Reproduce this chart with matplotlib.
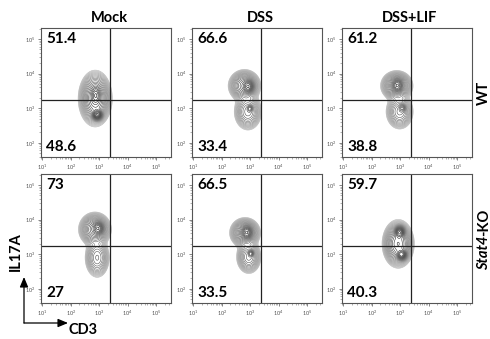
import numpy as np
import matplotlib
matplotlib.use('Agg')
from matplotlib import pyplot as plt

plt.rcParams['font.family'] = ['Lato', 'DejaVu Sans']

# column / row names
conditions = ['Mock', 'DSS', 'DSS+LIF']
genotypes = ['WT', 'Stat4-KO']

# quadrant percentages (upper-left = IL17A+, lower-left = IL17A-)
upper_pct = [['51.4', '66.6', '61.2'], ['73', '66.5', '59.7']]
lower_pct = [['48.6', '33.4', '38.8'], ['27', '33.5', '40.3']]

# quadrant gates (CD3, IL17A)
gate_cd3 = 10 ** 3.39
gate_il17a = 10 ** 3.23

# cell populations, in log10 units:
# (cd3 centre, il17a centre, cd3 spread, il17a spread, weight)
wt_mock = [(2.93, 2.82, 0.08, 0.07, 1.00), (2.88, 3.38, 0.08, 0.12, 0.60), (2.86, 3.28, 0.22, 0.30, 0.60)]
wt_dss = [(2.93, 3.63, 0.09, 0.09, 1.00), (2.99, 2.99, 0.05, 0.05, 0.40), (2.80, 3.65, 0.22, 0.18, 0.55), (2.92, 2.90, 0.20, 0.22, 0.32)]
wt_lif = [(2.90, 3.66, 0.09, 0.09, 1.00), (3.07, 3.00, 0.06, 0.06, 0.40), (2.88, 3.65, 0.22, 0.17, 0.55), (2.98, 2.90, 0.20, 0.21, 0.32)]
ko_mock = [(2.96, 3.75, 0.09, 0.09, 1.00), (2.85, 3.72, 0.22, 0.19, 0.60), (2.93, 2.90, 0.18, 0.24, 0.30)]
ko_dss = [(2.88, 3.63, 0.09, 0.09, 1.00), (3.02, 3.02, 0.05, 0.05, 0.45), (2.82, 3.62, 0.21, 0.17, 0.55), (2.95, 2.92, 0.18, 0.20, 0.32)]
ko_lif = [(2.98, 3.63, 0.08, 0.08, 1.00), (3.05, 2.99, 0.08, 0.07, 0.90), (2.93, 3.30, 0.21, 0.26, 0.60)]
populations = [[wt_mock, wt_dss, wt_lif], [ko_mock, ko_dss, ko_lif]]

W, H = 490, 339
fig = plt.figure(figsize=(W / 100, H / 100), dpi=100)

panel_left = [41, 192, 342]
panel_top = [28, 174]
panel_w, panel_h = 130, 129

gx = np.linspace(0.9, 5.6, 450)
gy = np.linspace(1.5, 5.4, 450)
GX, GY = np.meshgrid(gx, gy)


def density(peaks):
    z = np.zeros_like(GX)
    for cx, cy, sx, sy, w in peaks:
        z += w * np.exp(-0.5 * (((GX - cx) / sx) ** 2 + ((GY - cy) / sy) ** 2))
    return z


n_lev = 20
frac = np.geomspace(0.012, 0.93, n_lev)
line_colors = plt.cm.Greys(np.linspace(0.42, 0.95, n_lev))

for r in range(2):
    for c in range(3):
        x0 = panel_left[c] / W
        y0 = 1 - (panel_top[r] + panel_h) / H
        ax = fig.add_axes([x0, y0, panel_w / W, panel_h / H])
        ax.set_xscale('log')
        ax.set_yscale('log')
        ax.set_xlim(10 ** 0.95, 10 ** 5.53)
        ax.set_ylim(10 ** 1.59, 10 ** 5.32)

        z = density(populations[r][c])
        ax.contour(10 ** GX, 10 ** GY, z, levels=frac * z.max(), colors=line_colors, linewidths=0.4)

        ax.axvline(gate_cd3, color='#222222', lw=0.9)
        ax.axhline(gate_il17a, color='#222222', lw=0.9)

        ax.set_xticks([1e1, 1e2, 1e3, 1e4, 1e5])
        ax.set_yticks([1e2, 1e3, 1e4, 1e5])
        ax.tick_params(which='major', length=2.5, width=0.5, labelsize=4, colors='#555555', pad=1.5)
        ax.tick_params(which='minor', length=1.2, width=0.4, colors='#777777')
        for s in ax.spines.values():
            s.set_color('#555555')
            s.set_linewidth(0.8)

        ax.text(0.04, 0.914, upper_pct[r][c], transform=ax.transAxes, fontsize=11,
                fontweight='bold', va='center', ha='left')
        ax.text(0.04, 0.078, lower_pct[r][c], transform=ax.transAxes, fontsize=11,
                fontweight='bold', va='center', ha='left')

# column titles
for c, name in enumerate(conditions):
    fig.text((panel_left[c] + panel_w / 2 + 3) / W, 1 - 18 / H, name, fontsize=10.5,
             fontweight='bold', ha='center', va='center')

# row labels
fig.text(484 / W, 1 - 93 / H, genotypes[0], rotation=90, fontsize=10.5, fontweight='bold',
         ha='center', va='center')
t1 = fig.text(484 / W, 1 - 270 / H, 'Stat4', rotation=90, fontsize=10.5, fontweight='bold',
              style='italic', ha='center', va='bottom')
fig.canvas.draw()
bb = t1.get_window_extent()
fig.text(484 / W, bb.y1 / H, '-KO', rotation=90, fontsize=10.5, fontweight='bold',
         ha='center', va='bottom')

# axis arrows
fig.text(16 / W, 1 - 252 / H, 'IL17A', rotation=90, fontsize=10.5, fontweight='bold',
         ha='center', va='center')
fig.text(83 / W, 2 / H, 'CD3', fontsize=10.5, fontweight='bold', ha='center', va='bottom')
arrow = dict(arrowstyle='-|>,head_length=0.6,head_width=0.25', color='black', lw=0.9,
             shrinkA=0, shrinkB=0, mutation_scale=10)
fig.add_artist(matplotlib.patches.FancyArrowPatch((24, H - 323), (24, H - 277),
                                                  transform=None, **arrow))
fig.add_artist(matplotlib.patches.FancyArrowPatch((24, H - 323), (68, H - 323),
                                                  transform=None, **arrow))

fig.savefig('out.png', dpi=100)
